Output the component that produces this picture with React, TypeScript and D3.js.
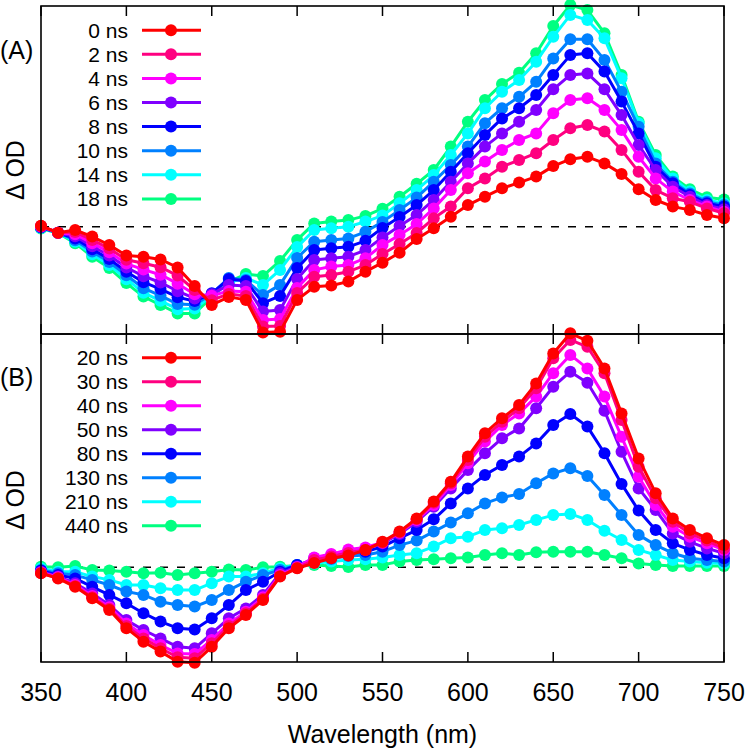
import React from "react";
import * as d3 from "d3";

const wavelengths = [350, 360, 370, 380, 390, 400, 410, 420, 430, 440, 450, 460, 470, 480, 490, 500, 510, 520, 530, 540, 550, 560, 570, 580, 590, 600, 610, 620, 630, 640, 650, 660, 670, 680, 690, 700, 710, 720, 730, 740, 750];
const xTicks = [350, 400, 450, 500, 550, 600, 650, 700, 750];

// Panel (A): early delays, ΔOD in mOD
const delaysA = ["0 ns", "2 ns", "4 ns", "6 ns", "8 ns", "10 ns", "14 ns", "18 ns"];
const od0ns = [0.3, -2.0, -1.1, -3.3, -6.1, -9.6, -10.0, -10.9, -13.6, -19.8, -26.1, -23.4, -24.4, -35.3, -35.0, -24.4, -20.0, -19.6, -18.3, -15.0, -12.0, -8.7, -4.1, -0.5, 3.3, 7.2, 10.0, 12.8, 14.7, 16.7, 20.2, 22.5, 23.3, 21.1, 17.6, 12.5, 8.9, 6.7, 5.6, 3.9, 2.8];
const od2ns = [0.2, -2.0, -1.8, -4.4, -7.3, -11.0, -12.2, -13.5, -16.3, -21.1, -24.5, -22.4, -23.1, -33.3, -33.1, -22.1, -16.7, -16.1, -15.0, -12.8, -9.1, -5.8, -2.1, 2.8, 6.7, 12.8, 16.1, 20.0, 22.2, 24.5, 28.9, 32.8, 33.9, 31.7, 25.6, 18.3, 12.2, 9.5, 8.3, 6.1, 4.5];
const od4ns = [0.1, -2.0, -2.5, -5.5, -8.5, -12.3, -14.3, -16.0, -19.0, -22.5, -23.0, -21.4, -21.7, -31.1, -30.8, -20.4, -14.4, -13.3, -12.8, -10.5, -6.1, -2.8, 0.9, 6.1, 12.2, 17.8, 21.7, 25.6, 28.9, 31.1, 37.8, 42.2, 42.8, 38.9, 32.2, 23.3, 16.1, 11.7, 8.9, 6.7, 5.0];
const od6ns = [0.0, -2.0, -3.2, -6.5, -9.6, -13.6, -16.5, -18.6, -21.5, -23.9, -22.5, -19.4, -19.8, -28.3, -27.8, -17.4, -11.1, -10.5, -10.0, -7.8, -3.6, 0.2, 3.9, 8.9, 15.0, 21.1, 26.7, 31.1, 35.0, 38.9, 45.8, 50.6, 51.1, 45.8, 37.2, 27.2, 18.9, 13.3, 10.0, 7.2, 5.8];
const od8ns = [-0.2, -2.0, -3.9, -7.5, -10.8, -15.0, -18.5, -20.8, -23.5, -24.8, -22.2, -17.4, -18.1, -25.5, -23.1, -13.8, -7.8, -7.2, -6.7, -4.7, -0.4, 3.2, 7.2, 12.2, 18.3, 24.5, 30.6, 36.1, 39.5, 43.9, 50.6, 57.2, 57.8, 51.7, 41.7, 31.1, 20.0, 14.5, 10.6, 7.8, 6.7];
const od10ns = [-0.3, -2.0, -4.5, -8.3, -11.8, -16.2, -20.5, -23.0, -25.8, -26.0, -22.4, -17.1, -17.8, -22.8, -19.4, -10.4, -5.0, -4.4, -3.9, -1.7, 1.6, 5.6, 9.7, 15.0, 20.6, 26.7, 34.5, 39.5, 43.3, 48.3, 56.1, 62.5, 62.5, 55.6, 45.0, 33.3, 21.1, 15.0, 11.1, 8.3, 7.2];
const od14ns = [-0.4, -2.0, -5.0, -9.2, -12.8, -17.5, -22.0, -24.7, -27.5, -27.3, -23.0, -18.5, -17.1, -19.4, -14.4, -6.8, -1.1, -0.5, 0.0, 1.7, 3.7, 7.8, 12.2, 17.2, 23.9, 31.1, 39.5, 45.0, 48.9, 55.0, 63.3, 70.6, 68.9, 62.8, 49.5, 34.5, 22.8, 16.1, 11.7, 8.9, 7.8];
const od18ns = [-0.6, -2.1, -5.5, -10.0, -13.8, -18.8, -23.3, -26.1, -28.9, -28.9, -23.4, -18.4, -15.8, -16.4, -11.4, -4.4, 1.1, 1.7, 2.2, 3.6, 6.0, 10.0, 14.3, 18.9, 26.7, 35.0, 42.2, 47.6, 51.3, 57.8, 66.9, 73.9, 72.2, 64.5, 50.6, 35.0, 23.9, 16.7, 12.5, 9.8, 9.1];

// Panel (B): later delays, ΔOD in mOD
const delaysB = ["20 ns", "30 ns", "40 ns", "50 ns", "80 ns", "130 ns", "210 ns", "440 ns"];
const od20ns = [-2.0, -3.7, -6.5, -10.3, -14.2, -20.3, -24.8, -28.1, -31.5, -31.8, -26.5, -20.3, -15.9, -10.9, -3.1, -0.3, 1.4, 3.0, 3.9, 5.8, 8.5, 11.9, 16.3, 21.9, 28.5, 36.9, 44.7, 49.7, 54.1, 61.3, 71.3, 78.0, 75.5, 66.3, 51.3, 36.3, 24.7, 16.3, 12.4, 9.7, 7.4];
const od30ns = [-1.9, -3.6, -6.2, -10.0, -13.8, -19.6, -23.7, -27.0, -30.0, -30.3, -25.3, -19.6, -15.3, -10.5, -2.9, -0.2, 2.4, 3.6, 4.8, 5.8, 8.3, 11.7, 16.0, 21.5, 28.0, 35.8, 43.5, 48.5, 53.0, 59.7, 69.7, 75.8, 73.5, 64.7, 49.1, 33.5, 23.0, 15.2, 11.3, 8.9, 6.3];
const od40ns = [-1.7, -3.3, -5.9, -9.6, -13.3, -18.7, -22.6, -25.9, -28.7, -28.9, -24.2, -18.7, -14.8, -10.0, -2.6, 0.0, 3.3, 4.4, 5.9, 6.6, 8.3, 11.5, 15.8, 20.8, 27.4, 34.7, 41.9, 47.4, 51.3, 56.9, 64.7, 70.8, 66.3, 56.9, 43.5, 30.2, 20.8, 13.5, 10.2, 8.0, 5.8];
const od50ns = [-1.5, -3.1, -5.3, -8.7, -12.6, -17.6, -20.9, -23.7, -26.5, -27.0, -22.0, -17.0, -13.7, -9.2, -2.0, 0.2, 3.1, 4.1, 5.4, 6.1, 8.0, 11.1, 15.2, 20.2, 26.3, 32.4, 38.0, 43.0, 46.3, 53.0, 60.2, 65.2, 61.5, 52.2, 38.5, 26.3, 19.1, 11.3, 8.5, 6.3, 4.7];
const od80ns = [-1.1, -2.6, -3.7, -6.5, -9.2, -12.0, -15.3, -18.1, -20.3, -20.7, -17.0, -12.6, -7.6, -4.8, -1.5, 0.8, 2.4, 3.4, 4.8, 5.2, 6.9, 9.7, 12.4, 16.0, 21.3, 26.3, 30.8, 34.1, 36.9, 41.3, 47.4, 51.1, 46.9, 38.0, 27.8, 18.9, 12.4, 8.0, 5.8, 4.1, 3.0];
const od130ns = [-0.9, -2.0, -2.6, -4.2, -5.9, -8.1, -9.2, -11.5, -12.6, -13.1, -10.9, -7.6, -4.8, -2.6, -0.9, 0.8, 1.8, 2.8, 3.8, 4.1, 5.2, 7.4, 8.9, 11.9, 14.9, 18.0, 21.3, 23.3, 24.4, 28.0, 31.3, 33.0, 30.4, 24.1, 17.4, 10.8, 7.4, 4.7, 3.0, 2.4, 1.9];
const od210ns = [-0.3, -1.5, -1.5, -3.1, -4.2, -5.9, -5.9, -7.0, -7.6, -7.6, -5.3, -3.1, -3.1, -2.0, -0.3, 0.8, 1.3, 1.9, 2.4, 2.7, 3.3, 4.1, 4.7, 6.9, 9.7, 10.2, 12.4, 13.0, 14.1, 15.8, 17.4, 17.8, 15.8, 12.2, 9.1, 5.8, 4.1, 2.4, 1.9, 1.5, 1.3];
const od440ns = [0.2, 0.0, 0.4, -0.9, -1.1, -1.5, -2.0, -1.8, -2.6, -2.0, -1.5, -0.7, -0.9, 0.0, 0.2, 0.6, 0.8, 0.4, 0.1, 0.8, 0.8, 1.9, 2.4, 2.7, 3.0, 3.3, 4.1, 4.7, 4.1, 5.0, 5.2, 5.2, 5.2, 4.1, 3.0, 1.3, 0.8, 0.4, 0.4, 0.4, 0.4];

const seriesA = [od0ns, od2ns, od4ns, od6ns, od8ns, od10ns, od14ns, od18ns];
const seriesB = [od20ns, od30ns, od40ns, od50ns, od80ns, od130ns, od210ns, od440ns];

const palette = ["#ff0000", "#ff0080", "#ff00ff", "#8000ff", "#0000ff", "#0080ff", "#00ffff", "#00ff80"];

const FONT = "'Liberation Sans', Arial, Helvetica, sans-serif";

export default function App() {
  const W = 745;
  const H = 750;
  const left = 41;
  const right = 724;
  const x = d3.scaleLinear().domain([350, 750]).range([left, right]);

  const panels = [
    {
      tag: "(A)",
      labels: delaysA,
      series: seriesA,
      top: 6,
      bottom: 334,
      y: d3.scaleLinear().domain([-35.77, 73.57]).range([334, 6]),
      legendY0: 30.2,
      legendStep: 24.1,
      tagY: 59,
      axisLabelY: 170,
    },
    {
      tag: "(B)",
      labels: delaysB,
      series: seriesB,
      top: 334,
      bottom: 662,
      y: d3.scaleLinear().domain([-31.57, 77.77]).range([662, 334]),
      legendY0: 357.7,
      legendStep: 24.0,
      tagY: 385.7,
      axisLabelY: 500,
    },
  ];

  const tickLen = 10;

  return (
    <svg
      width={W}
      height={H}
      viewBox={`0 0 ${W} ${H}`}
      style={{ position: "absolute", left: 0, top: 0, background: "#fff" }}
      fontFamily={FONT}
    >
      <rect x={0} y={0} width={W} height={H} fill="#fff" />
      {panels.map((p, pi) => {
        const line = d3
          .line<number>()
          .x((_, i) => x(wavelengths[i]))
          .y((d) => p.y(d));
        const order = p.series.map((_, i) => i).reverse();
        return (
          <g key={pi}>
            {/* zero line */}
            <line
              x1={left}
              x2={right}
              y1={p.y(0)}
              y2={p.y(0)}
              stroke="#000"
              strokeWidth={1.5}
              strokeDasharray="8,9"
            />
            {/* data */}
            {order.map((si) => (
              <g key={si}>
                <path
                  d={line(p.series[si]) || ""}
                  fill="none"
                  stroke={palette[si]}
                  strokeWidth={3}
                  strokeLinejoin="round"
                />
                {p.series[si].map((v, i) => (
                  <circle
                    key={i}
                    cx={x(wavelengths[i])}
                    cy={p.y(v)}
                    r={6}
                    fill={palette[si]}
                  />
                ))}
              </g>
            ))}
            {/* legend */}
            {p.labels.map((lab, i) => {
              const ly = p.legendY0 + i * p.legendStep;
              return (
                <g key={lab}>
                  <text
                    x={128}
                    y={ly + 7.5}
                    textAnchor="end"
                    fontSize={21}
                    fill="#000"
                  >
                    {lab}
                  </text>
                  <line x1={142} x2={201} y1={ly} y2={ly} stroke={palette[i]} strokeWidth={3} />
                  <circle cx={171} cy={ly} r={6} fill={palette[i]} />
                </g>
              );
            })}
            {/* ticks (mirrored, inward) */}
            {xTicks.map((t) => (
              <g key={t}>
                <line x1={x(t)} x2={x(t)} y1={p.top} y2={p.top + tickLen} stroke="#000" strokeWidth={1.5} />
                <line x1={x(t)} x2={x(t)} y1={p.bottom} y2={p.bottom - tickLen} stroke="#000" strokeWidth={1.5} />
              </g>
            ))}
            {/* frame */}
            <rect
              x={left}
              y={p.top}
              width={right - left}
              height={p.bottom - p.top}
              fill="none"
              stroke="#000"
              strokeWidth={1.6}
            />
            {/* panel tag */}
            <text x={0} y={p.tagY} fontSize={25} fill="#000">
              {p.tag}
            </text>
            {/* y axis label */}
            <text
              transform={`translate(24,${p.axisLabelY}) rotate(-90)`}
              textAnchor="middle"
              fontSize={25}
              fill="#000"
            >
              Δ OD
            </text>
          </g>
        );
      })}
      {/* x tick labels */}
      {xTicks.map((t) => (
        <text key={t} x={x(t)} y={701} textAnchor="middle" fontSize={25} fill="#000">
          {t}
        </text>
      ))}
      <text x={(left + right) / 2} y={743} textAnchor="middle" fontSize={25} fill="#000">
        Wavelength (nm)
      </text>
    </svg>
  );
}
